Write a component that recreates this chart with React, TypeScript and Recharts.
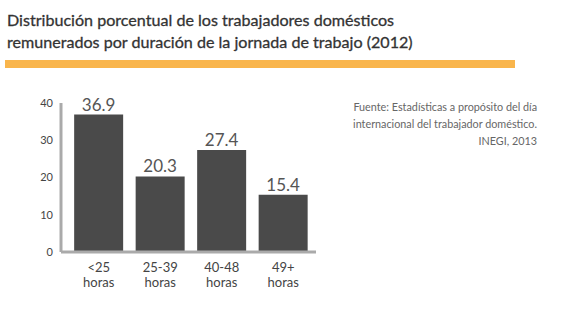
import { BarChart, Bar, XAxis, YAxis, LabelList } from "recharts";

const categories = ["<25|horas", "25-39|horas", "40-48|horas", "49+|horas"];
const porcentajes = [36.9, 20.3, 27.4, 15.4];
const yTicks = [0, 10, 20, 30, 40];

const data = categories.map((c, i) => ({ name: c, value: porcentajes[i] }));

const FONT = "Lato, 'Open Sans', sans-serif";

function HoraTick(props: any) {
  const { x, y, payload } = props;
  const [a, b] = String(payload.value).split("|");
  return (
    <text x={x} y={y} textAnchor="middle" fill="#444" fontSize={13} fontFamily={FONT}>
      <tspan x={x} dy={12}>{a}</tspan>
      <tspan x={x} dy={15}>{b}</tspan>
    </text>
  );
}

export default function App() {
  return (
    <div style={{ position: "absolute", left: 0, top: 0, width: 570, height: 329, background: "#fff", fontFamily: FONT }}>
      <div style={{ position: "absolute", left: 7, top: 9, fontSize: 16.1, lineHeight: "22px", fontWeight: 400, color: "#333", WebkitTextStroke: "0.3px #333" }}>
        Distribución porcentual de los trabajadores domésticos
        <br />
        remunerados por duración de la jornada de trabajo (2012)
      </div>
      <div style={{ position: "absolute", left: 5, top: 60, width: 510, height: 8, background: "#F9B54C" }} />
      <div style={{ position: "absolute", right: 33, top: 98, fontSize: 10.8, lineHeight: "17px", color: "#666", textAlign: "right" }}>
        Fuente: Estadísticas a propósito del día
        <br />
        internacional del trabajador doméstico.
        <br />
        INEGI, 2013
      </div>
      <div style={{ position: "absolute", left: 0, top: 0 }}>
        <BarChart width={330} height={329} data={data} margin={{ top: 103, right: 14, bottom: 47, left: 21 }} barCategoryGap="10%">
          <XAxis
            dataKey="name"
            axisLine={{ stroke: "#aaa", strokeWidth: 3 }}
            tickLine={false}
            tick={<HoraTick />}
            interval={0}
            padding={{ left: 7, right: 2 }}
          />
          <YAxis
            width={40}
            domain={[0, 40]}
            ticks={yTicks}
            axisLine={{ stroke: "#aaa", strokeWidth: 3 }}
            tickLine={false}
            tickMargin={2}
            tick={{ fill: "#444", fontSize: 11, fontFamily: FONT }}
          />
          <Bar dataKey="value" fill="#4a4a4a" isAnimationActive={false}>
            <LabelList dataKey="value" position="top" offset={4} fill="#555" fontSize={17} fontFamily={FONT} formatter={(v: any) => Number(v).toFixed(1)} />
          </Bar>
        </BarChart>
      </div>
    </div>
  );
}
